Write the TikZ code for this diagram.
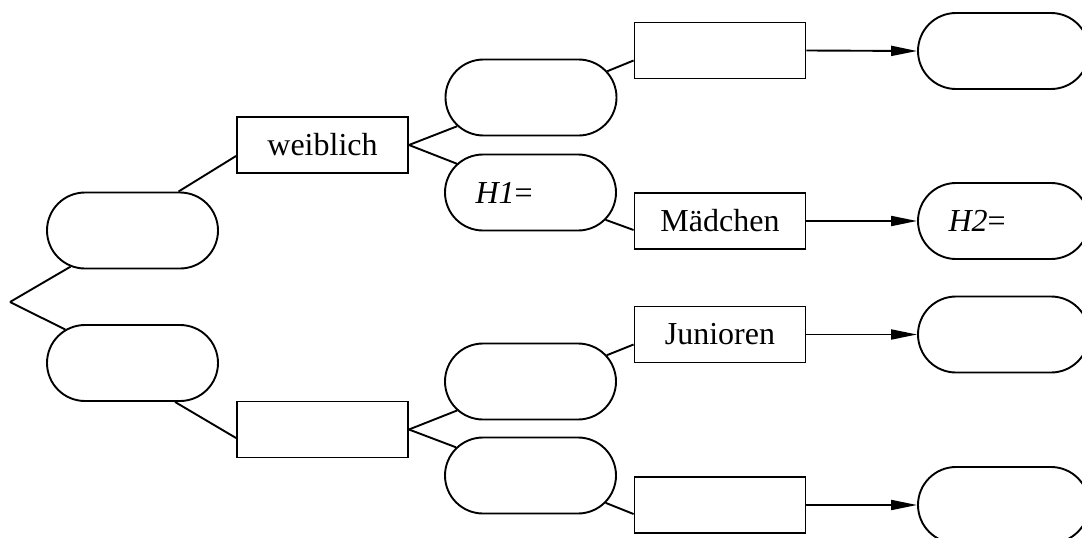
\documentclass[tikz,border=0pt]{standalone}
\usepackage{fontspec}
\setmainfont{Liberation Serif}
\usetikzlibrary{shapes.misc,arrows.meta,calc}
\begin{document}
\begin{tikzpicture}[x=1pt,y=-1pt,
  line width=1.9pt,
  every node/.style={font=\fontsize{32}{38}\selectfont, inner sep=0pt},
  stadium/.style={draw, rounded rectangle, minimum width=171pt, minimum height=76pt},
  box/.style={draw, rectangle, minimum width=171pt, minimum height=56pt},
  arr/.style={-{Triangle[length=26pt,width=10pt]}}
]
\useasboundingbox (0,0) rectangle (1082,538);
\clip (0,0) rectangle (1082,538);
% left column
\coordinate (root) at (10,302);
\node[stadium] (L1) at (132.5,230.5) {};
\node[stadium] (L2) at (132.5,363) {};
% second column
\node[box] (W) at (322.5,145) {weiblich};
\node[box] (B2) at (322.5,429.5) {};
% third column
\node[stadium] (M1) at (531,97.5) {};
\node[stadium] (H1) at (530.5,192.5) {\makebox[110pt][l]{\textit{H1}=}};
\node[stadium] (M3) at (530.5,381.5) {};
\node[stadium] (M4) at (530.5,475.5) {};
% fourth column
\node[box] (R1) at (720,50.5) {};
\node[box] (Ma) at (720,221) {Mädchen};
\node[box] (Ju) at (720,334.5) {Junioren};
\node[box] (R4) at (720,505) {};
% right column
\node[stadium] (T1) at (1003.5,51) {};
\node[stadium] (T2) at (1003.5,221) {\makebox[110pt][l]{\textit{H2}=}};
\node[stadium] (T3) at (1003.5,334.5) {};
\node[stadium] (T4) at (1003.5,505) {};
% connectors
\draw (root) -- (L1);
\draw (root) -- (L2);
\draw ([xshift=46pt]L1.north) -- ([yshift=-11pt]W.west);
\draw ([xshift=42.5pt]L2.south) -- ([yshift=-8.5pt]B2.west);
\draw (W.east) -- (M1);
\draw (W.east) -- (H1);
\draw (B2.east) -- (M3);
\draw (B2.east) -- (M4);
\draw (M1.19) -- ([yshift=-10pt]R1.west);
\draw (H1.-20) -- ([yshift=-9pt]Ma.west);
\draw (M3.19) -- ([yshift=-10pt]Ju.west);
\draw (M4.-20) -- ([yshift=-9pt]R4.west);
\draw[arr] (R1.east) -- (T1.west);
\draw[arr] (Ma.east) -- (T2.west);
\draw[arr] (Ju.east) -- (T3.west);
\draw[arr] (R4.east) -- (T4.west);
\end{tikzpicture}
\end{document}
